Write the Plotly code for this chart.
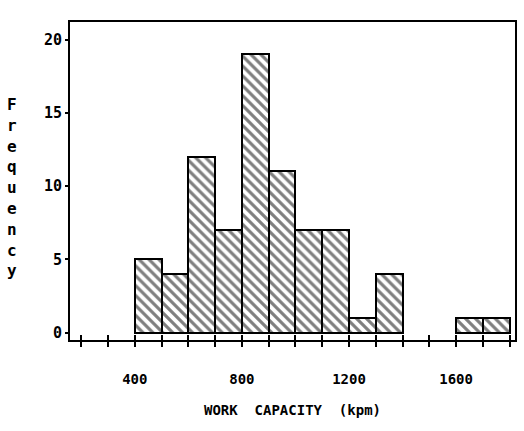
import plotly.graph_objects as go

bin_starts = [400, 500, 600, 700, 800, 900, 1000, 1100, 1200, 1300, 1600, 1700]
counts = [5, 4, 12, 7, 19, 11, 7, 7, 1, 4, 1, 1]
bin_width = 100
x_ticks = list(range(200, 1801, 100))
x_labels = {400: "400", 800: "800", 1200: "1200", 1600: "1600"}
y_ticks = [0, 5, 10, 15, 20]
y_title = "Frequency"
x_title = "WORK  CAPACITY  (kpm)"

centers = [s + bin_width / 2 for s in bin_starts]
FONT = "DejaVu Sans Mono"

fig = go.Figure()
fig.add_trace(go.Bar(
    x=centers, y=counts, width=[bin_width] * len(counts),
    marker=dict(color="white", line=dict(color="black", width=2),
                pattern=dict(shape="\\", fgcolor="black", bgcolor="white",
                             size=7, solidity=0.45)),
    showlegend=False,
))
# invisible trace for the crossing (inside) ticks
fig.add_trace(go.Scatter(x=[x_ticks[0]], y=[0], xaxis="x2", mode="markers",
                         marker=dict(opacity=0), showlegend=False, hoverinfo="skip"))

xr = [158, 1820]
fig.update_layout(
    width=524, height=431,
    margin=dict(l=70, r=7, t=22, b=91),
    paper_bgcolor="white", plot_bgcolor="white",
    bargap=0,
    font=dict(family=FONT, color="black"),
    xaxis=dict(range=xr, tickvals=x_ticks,
               ticktext=[x_labels.get(t, "") for t in x_ticks],
               ticks="outside", ticklen=5, tickwidth=2, tickcolor="black",
               showline=True, linewidth=2, linecolor="black", mirror=True,
               showgrid=False, zeroline=False,
               tickfont=dict(family=FONT, size=14, weight="bold"),
               ticklabelstandoff=20),
    xaxis2=dict(range=xr, overlaying="x", tickvals=x_ticks, showticklabels=False,
                ticks="inside", ticklen=5, tickwidth=2, tickcolor="black",
                showgrid=False, zeroline=False, showline=False, side="bottom"),
    yaxis=dict(range=[-0.5, 21.2], tickvals=y_ticks,
               ticks="outside", ticklen=3, tickwidth=2, tickcolor="black",
               showline=True, linewidth=2, linecolor="black", mirror=True,
               showgrid=False, zeroline=False,
               tickfont=dict(family=FONT, size=15, weight="bold"),
               ticklabelstandoff=0),
)
pw = 524 - 70 - 7
ph = 431 - 22 - 91
fig.add_annotation(text="<br>".join(list(y_title)),
                   x=(12 - 70) / pw, y=(431 - 91 - 187) / ph,
                   xref="paper", yref="paper", showarrow=False,
                   font=dict(family=FONT, size=16, weight="bold"),
                   xanchor="center", yanchor="middle")
fig.add_annotation(text=x_title,
                   x=(293 - 70) / pw, y=(431 - 91 - 410) / ph,
                   xref="paper", yref="paper", showarrow=False,
                   font=dict(family=FONT, size=14, weight="bold"),
                   xanchor="center", yanchor="middle")

fig.write_html("out.html")
